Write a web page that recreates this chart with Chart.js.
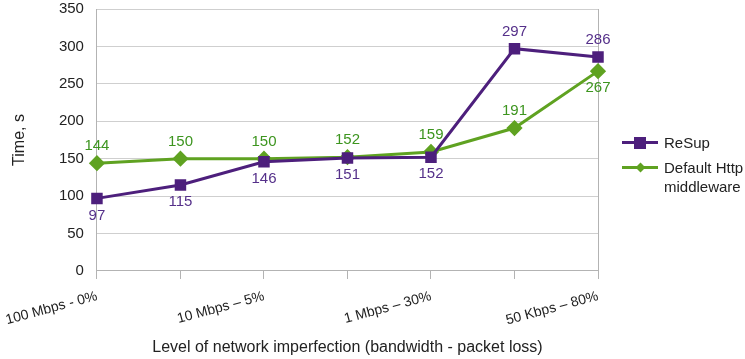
<!DOCTYPE html>
<html>
<head>
<meta charset="utf-8">
<script src="https://cdn.jsdelivr.net/npm/chart.js@4.4.1/dist/chart.umd.min.js"></script>
<style>
  html, body { margin: 0; padding: 0; background: #fff; }
  #wrap { position: relative; width: 745px; height: 359px; }
  #legend { position: absolute; left: 622px; top: 133px; font: 15px "Liberation Sans", Arial, sans-serif; color: #222; }
  .lg-item { display: flex; align-items: flex-start; margin-bottom: 6px; }
  .lg-key { position: relative; width: 36px; height: 19px; margin-right: 6px; flex: none; }
  .lg-key .ln { position: absolute; left: 0; right: 0; top: 8px; height: 3px; }
  .lg-key .mk { position: absolute; }
</style>
</head>
<body>
<div id="wrap">
  <canvas id="chart" width="745" height="359"></canvas>
  <div id="legend"></div>
</div>
<script>
// Data
const categories = ['100 Mbps - 0%', '', '10 Mbps \u2013 5%', '', '1 Mbps \u2013 30%', '', '50 Kbps \u2013 80%'];
const resupValues = [97, 115, 146, 151, 152, 297, 286];
const defaultValues = [144, 150, 150, 152, 159, 191, 267];
const yTicks = [0, 50, 100, 150, 200, 250, 300, 350];

const seriesNames = ['ReSup', 'Default Http\nmiddleware'];
const PURPLE = '#4d1f7c';
const GREEN = '#5fa221';
const PURPLE_TEXT = '#55308a';
const GREEN_TEXT = '#3d951f';

// label above (-1) or below (+1) the point
const resupSide = [1, 1, 1, 1, 1, -1, -1];
const defaultSide = [-1, -1, -1, -1, -1, -1, 1];

const valueLabels = {
    id: 'valueLabels',
    afterDatasetsDraw(chart) {
        const ctx = chart.ctx;
        ctx.save();
        ctx.font = '15px "Liberation Sans", Arial, sans-serif';
        ctx.textAlign = 'center';
        ctx.textBaseline = 'middle';
        chart.data.datasets.forEach((ds, i) => {
            const meta = chart.getDatasetMeta(i);
            const side = i === 0 ? resupSide : defaultSide;
            ctx.fillStyle = i === 0 ? PURPLE_TEXT : GREEN_TEXT;
            meta.data.forEach((pt, j) => {
                ctx.fillText(String(ds.data[j]), pt.x, pt.y + side[j] * 17);
            });
        });
        ctx.restore();
    }
};

const chart = new Chart(document.getElementById('chart'), {
    type: 'line',
    data: {
        labels: categories,
        datasets: [
            {
                label: seriesNames[0], data: resupValues,
                borderColor: PURPLE, backgroundColor: PURPLE, borderWidth: 3,
                pointStyle: 'rect', pointRadius: 6, pointHoverRadius: 6
            },
            {
                label: seriesNames[1], data: defaultValues,
                borderColor: GREEN, backgroundColor: GREEN, borderWidth: 3,
                pointStyle: 'rectRot', pointRadius: 6, pointHoverRadius: 6
            }
        ]
    },
    options: {
        responsive: false,
        animation: false,
        events: [],
        layout: { padding: { left: 5, right: 147, top: 0, bottom: 2 } },
        plugins: { legend: { display: false }, tooltip: { enabled: false } },
        scales: {
            x: {
                offset: false,
                // first rotated label asks for a bit more room than the reference gives it
                afterFit: axis => { axis.paddingLeft = Math.max(0, axis.paddingLeft - 3); },
                border: { color: '#b3b3b3' },
                grid: {
                    color: c => (c.index === 0 || c.index === categories.length - 1) ? '#b3b3b3' : 'rgba(0,0,0,0)',
                    tickColor: '#b3b3b3',
                    tickLength: 8
                },
                ticks: {
                    autoSkip: false, minRotation: 15, maxRotation: 15, padding: 9,
                    color: '#222', font: { family: '"Liberation Sans", Arial, sans-serif', size: 14 }
                },
                title: {
                    display: true, text: 'Level of network imperfection (bandwidth - packet loss)',
                    color: '#222', font: { family: '"Liberation Sans", Arial, sans-serif', size: 16 },
                    padding: { top: 0, bottom: 0 }
                }
            },
            y: {
                min: 0, max: 350,
                afterBuildTicks: axis => { axis.ticks = yTicks.map(v => ({ value: v })); },
                border: { display: false },
                grid: { color: '#cfcfcf', drawTicks: true, tickLength: 13, tickColor: 'rgba(0,0,0,0)' },
                ticks: {
                    padding: 0, color: '#222',
                    font: { family: '"Liberation Sans", Arial, sans-serif', size: 15 }
                },
                title: {
                    display: true, text: 'Time, s', color: '#222',
                    font: { family: '"Liberation Sans", Arial, sans-serif', size: 16 },
                    padding: { top: 0, bottom: 30 }
                }
            }
        }
    },
    plugins: [valueLabels]
});

// HTML legend (second label wraps onto two lines)
const legend = document.getElementById('legend');
chart.data.datasets.forEach(ds => {
    const item = document.createElement('div');
    item.className = 'lg-item';
    const key = document.createElement('div');
    key.className = 'lg-key';
    const ln = document.createElement('div');
    ln.className = 'ln';
    ln.style.background = ds.borderColor;
    const mk = document.createElement('div');
    mk.className = 'mk';
    mk.style.background = ds.borderColor;
    if (ds.pointStyle === 'rect') {
        mk.style.cssText += 'width:12px;height:12px;left:12px;top:3.5px;';
    } else {
        mk.style.cssText += 'width:7px;height:7px;left:14.5px;top:6px;transform:rotate(45deg);';
    }
    key.appendChild(ln);
    key.appendChild(mk);
    const txt = document.createElement('div');
    txt.style.whiteSpace = 'pre';
    txt.style.lineHeight = '19px';
    txt.textContent = ds.label;
    item.appendChild(key);
    item.appendChild(txt);
    legend.appendChild(item);
});
</script>
</body>
</html>
